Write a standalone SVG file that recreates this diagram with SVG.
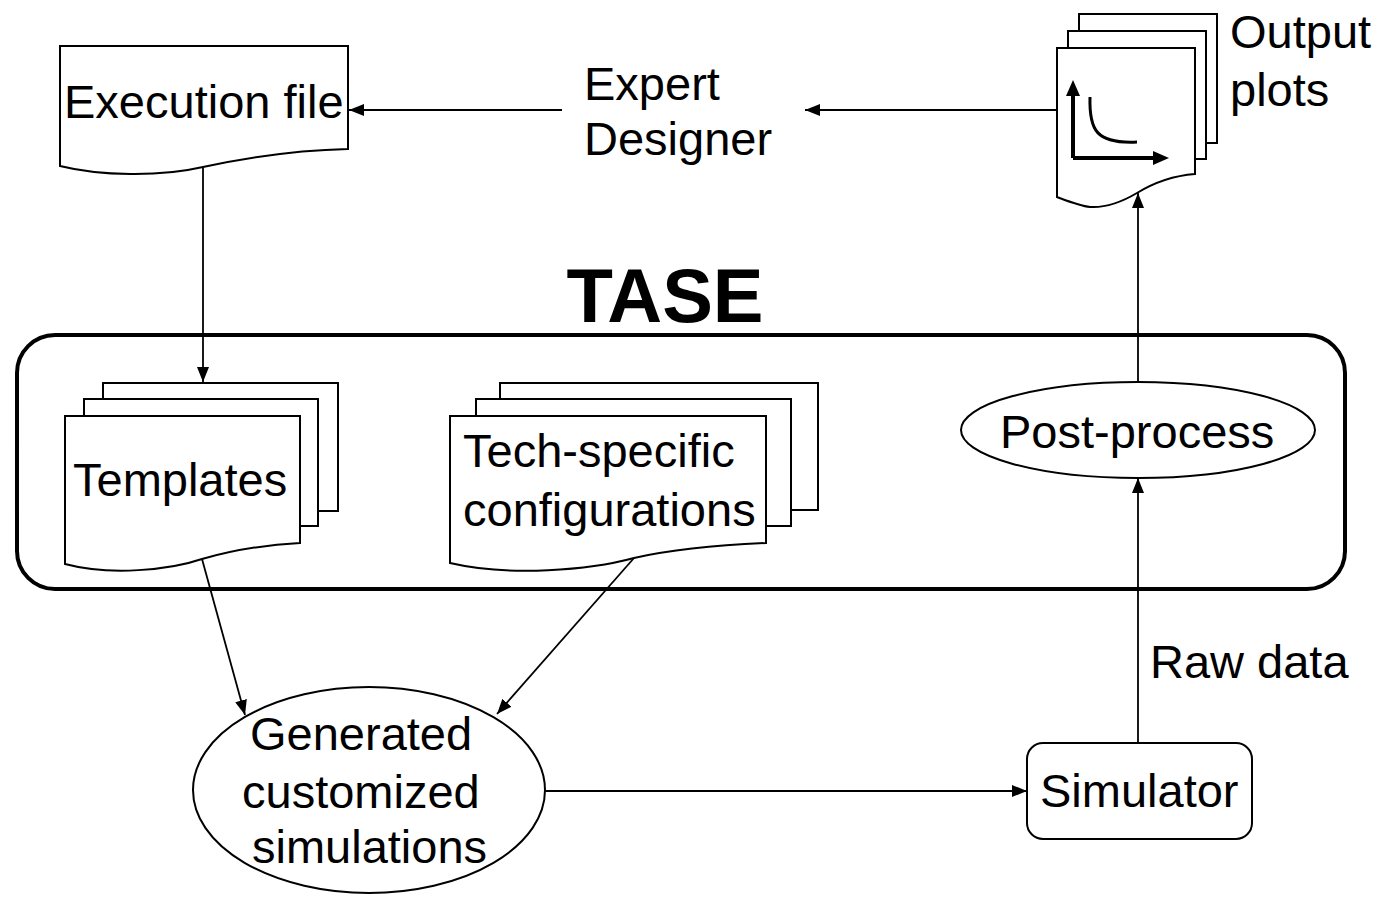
<svg xmlns="http://www.w3.org/2000/svg" width="1385" height="898" viewBox="0 0 1385 898">
<style>
.t{font-family:"Liberation Sans",Arial,sans-serif;font-size:47px;fill:#000}
.b{font-family:"Liberation Sans",Arial,sans-serif;font-size:76px;font-weight:bold;fill:#000}
.doc{fill:#fff;stroke:#000;stroke-width:2}
.shape{fill:#fff;stroke:#000;stroke-width:2}
.conn{fill:none;stroke:#000;stroke-width:1.8}
</style>
<defs>
<marker id="ah" markerUnits="userSpaceOnUse" markerWidth="15" markerHeight="12" refX="15" refY="6" orient="auto">
<path d="M0,0 L15,6 L0,12 z" fill="#000"/>
</marker>
</defs>
<rect width="1385" height="898" fill="#fff"/>

<g id="tase">
<rect x="17" y="335" width="1328" height="254" rx="38" ry="38" fill="none" stroke="#000" stroke-width="4"/>
<text class="b" x="665" y="322" text-anchor="middle">TASE</text>
</g>

<g id="connectors">
<path class="conn" d="M562,110 H349" marker-end="url(#ah)"/>
<path class="conn" d="M1057,110 H805" marker-end="url(#ah)"/>
<path class="conn" d="M203,167 L203,382" marker-end="url(#ah)"/>
<path class="conn" d="M202,559 L245,715" marker-end="url(#ah)"/>
<path class="conn" d="M634,558 L497,714" marker-end="url(#ah)"/>
<path class="conn" d="M545,791 H1027" marker-end="url(#ah)"/>
<path class="conn" d="M1138,743 V478" marker-end="url(#ah)"/>
<path class="conn" d="M1138,383 V193" marker-end="url(#ah)"/>
</g>

<g id="execution-file">
<path class="doc" d="M60,46 H348 V149 C300,150 250,157 203,167 C160,177 100,176 60,166 Z"/>
<text class="t" x="64" y="118">Execution file</text>
</g>

<g id="expert-designer">
<text class="t" x="584" y="100">Expert</text>
<text class="t" x="584" y="155">Designer</text>
</g>

<g id="output-plots">
<rect class="doc" x="1079" y="14" width="138" height="129"/>
<rect class="doc" x="1068" y="31" width="138" height="128"/>
<path class="doc" d="M1057,48 H1195 V174 C1170,176 1150,185 1137,193 C1120,203 1105,208 1090,207 C1080,206 1065,200 1057,197 Z"/>
<path d="M1073,158 V94 M1073,158 H1155" fill="none" stroke="#000" stroke-width="4"/>
<path d="M1073,80 L1080,96 L1066,96 Z" fill="#000"/>
<path d="M1169,158 L1153,165 L1153,151 Z" fill="#000"/>
<path d="M1090,97 C1089,130 1096,144 1137,142" fill="none" stroke="#000" stroke-width="3"/>
<text class="t" x="1230" y="48">Output</text>
<text class="t" x="1230" y="106">plots</text>
</g>

<g id="templates">
<rect class="doc" x="103" y="383" width="235" height="128"/>
<rect class="doc" x="84" y="399" width="234" height="127"/>
<path class="doc" d="M65,416 H300 V543 C260,545 230,551 202,559 C170,570 110,576 65,564 Z"/>
<text class="t" x="73" y="496">Templates</text>
</g>

<g id="tech-configs">
<rect class="doc" x="500" y="383" width="318" height="127"/>
<rect class="doc" x="476" y="399" width="315" height="127"/>
<path class="doc" d="M450,416 H766 V543 C720,545 670,550 634,558 C590,570 510,577 450,563 Z"/>
<text class="t" x="463" y="467">Tech-specific</text>
<text class="t" x="463" y="526">configurations</text>
</g>

<g id="post-process">
<ellipse class="shape" cx="1138" cy="430" rx="177" ry="48"/>
<text class="t" x="1000" y="448">Post-process</text>
</g>

<g id="raw-data-label">
<text class="t" x="1150" y="678">Raw data</text>
</g>

<g id="generated">
<ellipse class="shape" cx="369" cy="790" rx="176" ry="103"/>
<text class="t" x="250" y="750">Generated</text>
<text class="t" x="242" y="808">customized</text>
<text class="t" x="252" y="863">simulations</text>
</g>

<g id="simulator">
<rect class="shape" x="1027" y="743" width="225" height="96" rx="16" ry="16"/>
<text class="t" x="1040" y="807">Simulator</text>
</g>
</svg>
